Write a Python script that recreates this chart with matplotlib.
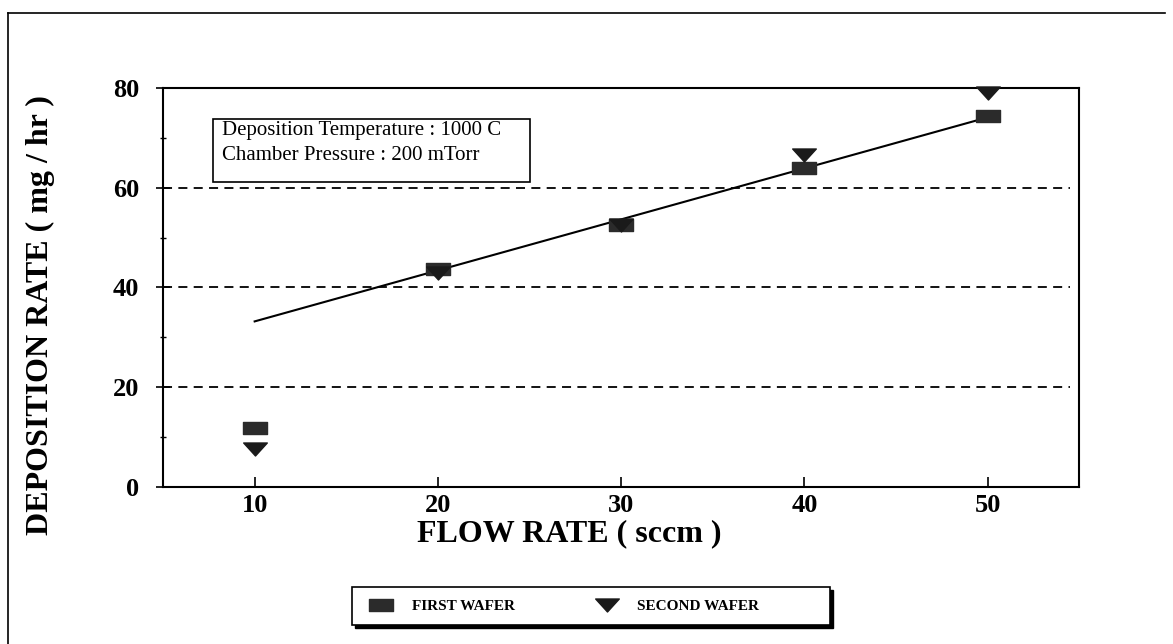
import numpy as np
import matplotlib.pyplot as plt
import matplotlib as mpl
from matplotlib.path import Path
from matplotlib.lines import Line2D
from matplotlib.patches import Rectangle

mpl.rcParams.update({
    "font.family": ["Liberation Serif", "DejaVu Serif"],
})

# data
flow = [10, 20, 30, 40, 50]
first_wafer = [11.8, 43.8, 52.5, 64.0, 74.3]
second_wafer = [7.7, 43.0, 52.5, 66.5, 79.0]
fit_x = [10, 50]
fit_y = [33.2, 74.1]

x_ticks = [10, 20, 30, 40, 50]
y_ticks = [0, 20, 40, 60, 80]
y_minor = [10, 30, 50, 70]
grid_y = [20, 40, 60]
note_lines = ["Deposition Temperature : 1000 C", "Chamber Pressure : 200 mTorr"]

W, H = 1173, 644

# flat rectangle and flat down-pointing triangle, like the original plotter marks
rect_mark = Path([(-1, -0.5), (1, -0.5), (1, 0.5), (-1, 0.5), (-1, -0.5)],
                 [Path.MOVETO, Path.LINETO, Path.LINETO, Path.LINETO, Path.CLOSEPOLY])
tri_mark = Path([(-1, 0.55), (1, 0.55), (0, -0.55), (-1, 0.55)],
                [Path.MOVETO, Path.LINETO, Path.LINETO, Path.CLOSEPOLY])

fig = plt.figure(figsize=(W / 100, H / 100), dpi=100)
ax = fig.add_axes([0.139, 0.2438, 0.781, 0.6196])

for yv in grid_y:
    ax.axhline(yv, xmin=0, xmax=0.99, color="black", lw=1.3, ls=(0, (5, 3.5)), zorder=1)

ax.plot(fit_x, fit_y, color="black", lw=1.5, zorder=2)
ax.plot(flow, first_wafer, ls="none", marker=rect_mark, ms=17, color="#2b2b2b",
        zorder=3, clip_on=False, label="FIRST WAFER")
ax.plot(flow, second_wafer, ls="none", marker=tri_mark, ms=17, color="#1a1a1a",
        zorder=4, clip_on=False, label="SECOND WAFER")

ax.set_xlim(5, 55)
ax.set_ylim(0, 80)
ax.set_xticks(x_ticks)
ax.set_yticks(y_ticks)
ax.set_yticks(y_minor, minor=True)
ax.tick_params(axis="x", direction="in", length=7, width=1.2, pad=5, labelsize=19)
ax.tick_params(axis="y", direction="inout", length=10, width=1.2, pad=12, labelsize=19)
ax.tick_params(axis="y", which="minor", direction="inout", length=4.5, width=1.0)
for lab in ax.get_xticklabels() + ax.get_yticklabels():
    lab.set_fontweight("bold")
for sp in ax.spines.values():
    sp.set_linewidth(1.5)

ax.set_xlabel("FLOW RATE ( sccm )", fontsize=23, fontweight="bold")
ax.xaxis.set_label_coords(0.443, -0.08)
ax.set_ylabel("DEPOSITION RATE ( mg / hr )", fontsize=23, fontweight="bold")
ax.yaxis.set_label_coords(-0.118, 0.43)

# condition note box
ax.add_patch(Rectangle((0.0546, 0.764), 0.346, 0.158, transform=ax.transAxes,
                       fill=False, edgecolor="black", lw=1.2, zorder=5))
ax.text(0.064, 0.918, "\n".join(note_lines), transform=ax.transAxes,
        fontsize=15, va="top", ha="left", linespacing=1.45, zorder=6)

# legend box with a black drop shadow
box = (352 / W, 1 - 625 / H, 478 / W, 38 / H)
fig.add_artist(Rectangle((box[0] + 3 / W, box[1] - 3 / H), box[2], box[3],
                         transform=fig.transFigure, facecolor="black", edgecolor="black",
                         lw=1.0, zorder=1))
fig.add_artist(Rectangle(box[:2], box[2], box[3], transform=fig.transFigure,
                         facecolor="white", edgecolor="black", lw=1.2, zorder=2))
leg = fig.legend(loc="center left", bbox_to_anchor=(366 / W, 1 - 606 / H),
                 ncol=2, frameon=False, prop={"weight": "bold", "size": 11},
                 handlelength=2.0, handletextpad=1.0, columnspacing=5.0,
                 borderpad=0, borderaxespad=0)
leg.set_zorder(3)

# page border
fig.add_artist(Line2D([8 / W, 8 / W], [0, 1 - 13 / H], color="black", lw=1.2))
fig.add_artist(Line2D([8 / W, 1165 / W], [1 - 13 / H, 1 - 13 / H], color="black", lw=1.2))

fig.savefig("out.png", dpi=100)
